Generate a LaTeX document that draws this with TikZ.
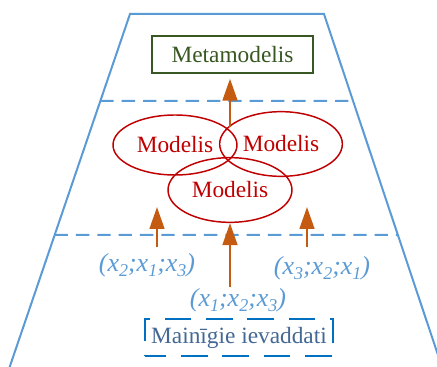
\documentclass[tikz,border=0pt]{standalone}
\usepackage{fontspec}
\setmainfont{Liberation Serif}
\newfontfamily\tnr{Liberation Serif}
\usetikzlibrary{arrows.meta,calc,shapes.geometric}
\definecolor{trap}{RGB}{91,155,213}
\definecolor{metagreen}{RGB}{56,87,35}
\definecolor{modred}{RGB}{192,0,0}
\definecolor{arrorange}{RGB}{197,90,17}
\definecolor{inbox}{RGB}{0,112,192}
\definecolor{intext}{RGB}{68,104,148}
\tikzset{
  trapline/.style={draw=trap, line width=1.5pt},
  sepline/.style={draw=trap, line width=1.5pt, dash pattern=on 10pt off 6pt},
  metabox/.style={draw=metagreen, line width=1pt, text=metagreen, minimum width=120.75pt, minimum height=27.75pt, inner sep=0pt, font=\tnr\fontsize{17.5}{20}\selectfont},
  modell/.style={ellipse, draw=modred, line width=1.1pt, text=modred, inner sep=0pt, font=\tnr\fontsize{17.5}{20}\selectfont},
  arr/.style={draw=arrorange, line width=2pt, -{Triangle[length=16.5pt,width=11pt]}},
  lbl/.style={text=trap, inner sep=0pt, font=\tnr\fontsize{19.5}{22}\selectfont\itshape},
  inputbox/.style={draw=inbox, line width=1.5pt, dash pattern=on 20pt off 11pt, dash phase=4pt, text=intext, minimum width=141pt, minimum height=27.75pt, inner sep=0pt, font=\tnr\fontsize{17.5}{20}\selectfont}
}
\newcommand{\sbs}[1]{\raisebox{-0.22em}{\fontsize{13.5}{13.5}\selectfont #1}}
\begin{document}
\begin{tikzpicture}[x=0.75pt,y=-0.75pt]
\useasboundingbox (0,0) rectangle (437,367);
\begin{scope}
\clip (0,0) rectangle (437,367);
\coordinate (TL) at (130,14);
\coordinate (TR) at (324,14);
\coordinate (BL) at (10,366);
\coordinate (BR) at (437,352);
\draw[trapline, line join=miter] ($(TL)!1.2!(BL)$) -- (TL) -- (TR) -- ($(TR)!1.2!(BR)$);
\coordinate (s1l) at ($(TL)!{87/352}!(BL)$);
\coordinate (s1r) at ($(TR)!{87/338}!(BR)$);
\coordinate (s2l) at ($(TL)!{221/352}!(BL)$);
\coordinate (s2r) at ($(TR)!{221/338}!(BR)$);
\draw[sepline] (s1l) -- (s1r);
\draw[sepline] (s2l) -- (s2r);
\end{scope}

\node[metabox] (meta) at (232.5,54.5) {Metamodelis};

\node[modell, minimum width=93pt, minimum height=45pt] (mL) at (175,145) {Modelis};
\node[modell, minimum width=92pt, minimum height=48.5pt] (mR) at (281,144) {Modelis};
\node[modell, minimum width=93pt, minimum height=48.5pt] (mB) at (230,190) {Modelis};

\coordinate (c0) at (230,127);
\draw[arr, shorten >=3.75pt] (c0) -- (c0 |- meta.south);

\coordinate (aL0) at (157,247);
\coordinate (aL1) at (157,207);
\coordinate (aR0) at (307,247);
\coordinate (aR1) at (307,207);
\coordinate (aM0) at (230,287);
\draw[arr] (aL0) -- (aL1);
\draw[arr] (aR0) -- (aR1);
\draw[arr] (aM0) -- (mB.south);

\node[lbl] (l2) at (147,265) {(x\sbs{2};x\sbs{1};x\sbs{3})};
\node[lbl] (l3) at (322,268) {(x\sbs{3};x\sbs{2};x\sbs{1})};
\node[lbl] (l1) at (238,300) {(x\sbs{1};x\sbs{2};x\sbs{3})};

\node[inputbox] (inp) at (239,337.5) {Mainīgie ievaddati};
\end{tikzpicture}
\end{document}
